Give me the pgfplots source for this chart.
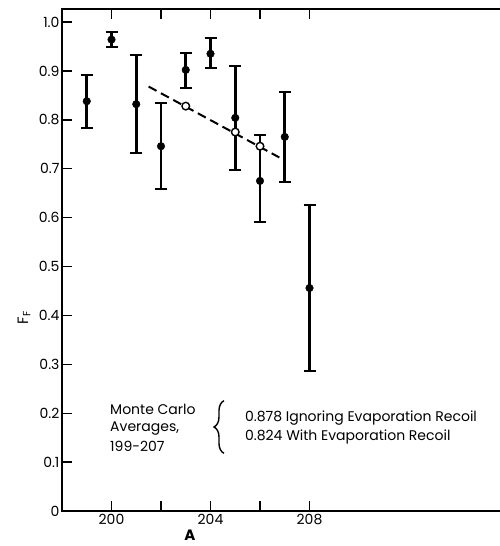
\documentclass[border=0pt]{standalone}
\usepackage{fontspec}
\setmainfont{Poppins}
\usepackage{pgfplots}
\usepackage{pgfplotstable}
\pgfplotsset{compat=1.18}
\usetikzlibrary{decorations.pathreplacing}

\pgfplotstableread{
x y ep em
199 0.838 0.054 0.054
200 0.964 0.016 0.016
201 0.832 0.101 0.100
202 0.746 0.088 0.088
203 0.902 0.035 0.036
204 0.935 0.032 0.030
205 0.804 0.107 0.106
206 0.675 0.093 0.083
207 0.765 0.092 0.093
208 0.456 0.169 0.170
}\fdata

\begin{document}
\begin{tikzpicture}[x=1pt,y=1pt]
\useasboundingbox (-62,-35) rectangle (438,511);
\begin{axis}[
  scale only axis, width=448pt, height=502pt,
  xmin=198, xmax=216.1, ymin=0, ymax=1.0266,
  axis line style={line width=1.4pt},
  tick align=inside, major tick length=10pt,
  tick style={line width=1.4pt, black},
  xtick={200,202,204,206,208},
  xticklabels={200,,204,,208},
  ytick={0,0.1,0.2,0.3,0.4,0.5,0.6,0.7,0.8,0.9,1.0},
  yticklabels={0,0.1,0.2,0.3,0.4,0.5,0.6,0.7,0.8,0.9,1.0},
  /pgf/number format/assume math mode=true,
  tick label style={font=\fontsize{14}{16}\selectfont},
  yticklabel style={xshift=1pt},
  clip=false,
]
\addplot[black, line width=2pt, dash pattern=on 9pt off 5pt] coordinates {(201.5,0.868) (206.78,0.723)};
\addplot[only marks, mark=*, mark size=3.8pt, black,
  error bars/.cd, y dir=both, y explicit,
  error bar style={line width=2.8pt, black},
  error mark options={rotate=90, mark size=6pt, line width=2pt, black}]
  table[x=x, y=y, y error plus=ep, y error minus=em] {\fdata};
\addplot[only marks, mark=*, mark size=3.8pt, mark options={fill=white, draw=black, line width=1.4pt}]
  coordinates {(203,0.828) (205,0.775) (206,0.746)};
\node[anchor=base west, inner sep=0pt, font=\fontsize{14}{16}\selectfont] at (axis cs:199.94,0.198) {Monte Carlo};
\node[anchor=base west, inner sep=0pt, font=\fontsize{14}{16}\selectfont] at (axis cs:199.94,0.1616) {Averages,};
\node[anchor=base west, inner sep=0pt, font=\fontsize{14}{16}\selectfont] at (axis cs:199.94,0.121) {199-207};
\node[anchor=base west, inner sep=0pt, font=\fontsize{14}{16}\selectfont] at (axis cs:205.39,0.184) {0.878 Ignoring Evaporation Recoil};
\node[anchor=base west, inner sep=0pt, font=\fontsize{14}{16}\selectfont] at (axis cs:205.39,0.145) {0.824 With Evaporation Recoil};
\draw[decorate, decoration={brace, amplitude=10pt}, line width=1.4pt] (axis cs:204.545,0.118) -- (axis cs:204.545,0.2256);
\node[font=\bfseries\fontsize{15}{17}\selectfont] at ([yshift=-24pt]axis cs:203.17,0) {A};
\node[rotate=90, font=\fontsize{15}{17}\selectfont] at ([xshift=-38pt]axis cs:198,0.395) {F\textsubscript{F}};
\end{axis}
\end{tikzpicture}
\end{document}
